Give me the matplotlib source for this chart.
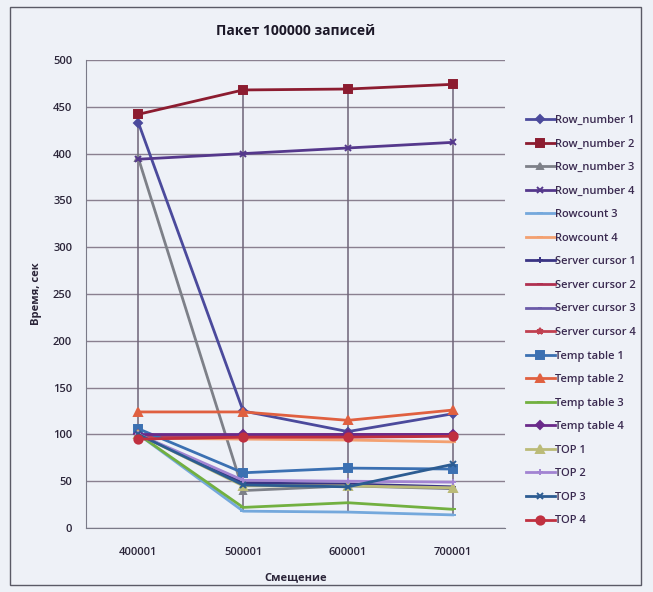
import matplotlib
matplotlib.use("Agg")
from matplotlib import pyplot as plt
from matplotlib.patches import Rectangle

plt.rcParams['font.family'] = ['Open Sans', 'DejaVu Sans']

# offsets (x categories)
offsets = ["400001", "500001", "600001", "700001"]

# time in seconds for each method
row_number_1 = [433, 125, 103, 122]
row_number_2 = [442, 468, 469, 474]
row_number_3 = [395, 40, 45, 42]
row_number_4 = [394, 400, 406, 412]
rowcount_3 = [100, 18, 17, 14]
rowcount_4 = [96, 95, 94, 92]
server_cursor_1 = [100, 48, 47, 44]
server_cursor_2 = [98, 98, 99, 99]
server_cursor_3 = [99, 99, 99, 100]
server_cursor_4 = [99, 99, 100, 100]
temp_table_1 = [106, 59, 64, 63]
temp_table_2 = [124, 124, 115, 126]
temp_table_3 = [100, 22, 27, 20]
temp_table_4 = [100, 100, 100, 100]
top_1 = [100, 45, 45, 43]
top_2 = [100, 51, 50, 49]
top_3 = [100, 46, 44, 68]
top_4 = [95, 97, 97, 98]

series = [
    ("Row_number 1", row_number_1, "#4b4a9c", "D", 4),
    ("Row_number 2", row_number_2, "#8c1c30", "s", 6),
    ("Row_number 3", row_number_3, "#7d8088", "^", 5),
    ("Row_number 4", row_number_4, "#55388c", "x", 4),
    ("Rowcount 3", rowcount_3, "#74a8dc", "_", 4),
    ("Rowcount 4", rowcount_4, "#f3a070", "_", 4),
    ("Server cursor 1", server_cursor_1, "#3a3484", "+", 5),
    ("Server cursor 2", server_cursor_2, "#b03050", "_", 4),
    ("Server cursor 3", server_cursor_3, "#6a5aa8", "_", 3),
    ("Server cursor 4", server_cursor_4, "#c04050", "*", 5),
    ("Temp table 1", temp_table_1, "#3b70b2", "s", 6),
    ("Temp table 2", temp_table_2, "#e06040", "^", 6),
    ("Temp table 3", temp_table_3, "#72b040", "_", 4),
    ("Temp table 4", temp_table_4, "#6a2a8a", "D", 4),
    ("TOP 1", top_1, "#bbbb78", "^", 6),
    ("TOP 2", top_2, "#a284d2", "+", 5),
    ("TOP 3", top_3, "#2c5c92", "x", 4),
    ("TOP 4", top_4, "#c03040", "o", 6),
]

bg = "#eef1f7"
fig = plt.figure(figsize=(6.53, 5.92), dpi=100, facecolor=bg)
ax = fig.add_axes([86 / 653, 64 / 592, 419 / 653, 468 / 592])
ax.set_facecolor(bg)

x = list(range(len(offsets)))

# high-low lines at each offset
for i in x:
    vals = [s[1][i] for s in series]
    ax.vlines(i, min(vals), max(vals), color="#6e6478", lw=1.1, zorder=2)

for name, vals, color, marker, ms in series:
    ax.plot(x, vals, color=color, lw=2.0, marker=marker, markersize=ms,
            markeredgewidth=1.4, markeredgecolor=color, label=name, zorder=3)

ax.set_xlim(-0.5, 3.5)
ax.set_ylim(0, 500)
ax.set_yticks(range(0, 501, 50))
ax.set_xticks(x)
ax.set_xticklabels(offsets)
ax.yaxis.grid(True, color="#8a8090", lw=1.0)
ax.set_axisbelow(True)
for side in ["top", "right"]:
    ax.spines[side].set_visible(False)
for side in ["left", "bottom"]:
    ax.spines[side].set_color("#7a7a88")
ax.tick_params(axis="y", length=0, labelsize=8, colors="#2a2438", pad=10)
ax.tick_params(axis="x", length=0, labelsize=8, colors="#2a2438", pad=14)
for lbl in ax.get_xticklabels() + ax.get_yticklabels():
    lbl.set_fontweight("semibold")

ax.set_title("Пакет 100000 записей", fontsize=10, fontweight="bold",
             color="#1c1828", pad=18)
ax.set_ylabel("Время, сек", fontsize=8, fontweight="bold", color="#2a2438",
              labelpad=8)
ax.set_xlabel("Смещение", fontsize=8, fontweight="bold", color="#2a2438",
              labelpad=10)

leg = fig.legend(loc="upper left", bbox_to_anchor=(516 / 653, 1 - 105 / 592),
                 frameon=False, fontsize=8, handlelength=2.6,
                 labelspacing=1.13, handletextpad=0.0)
for t in leg.get_texts():
    t.set_color("#3a2a50")
    t.set_fontweight("semibold")

# outer chart frame
fig.patches.append(Rectangle((10 / 653, 7 / 592), 631 / 653, 578 / 592,
                             transform=fig.transFigure, fill=False,
                             edgecolor="#5a5a66", lw=1.0))

fig.savefig("out.png", dpi=100, facecolor=bg)
